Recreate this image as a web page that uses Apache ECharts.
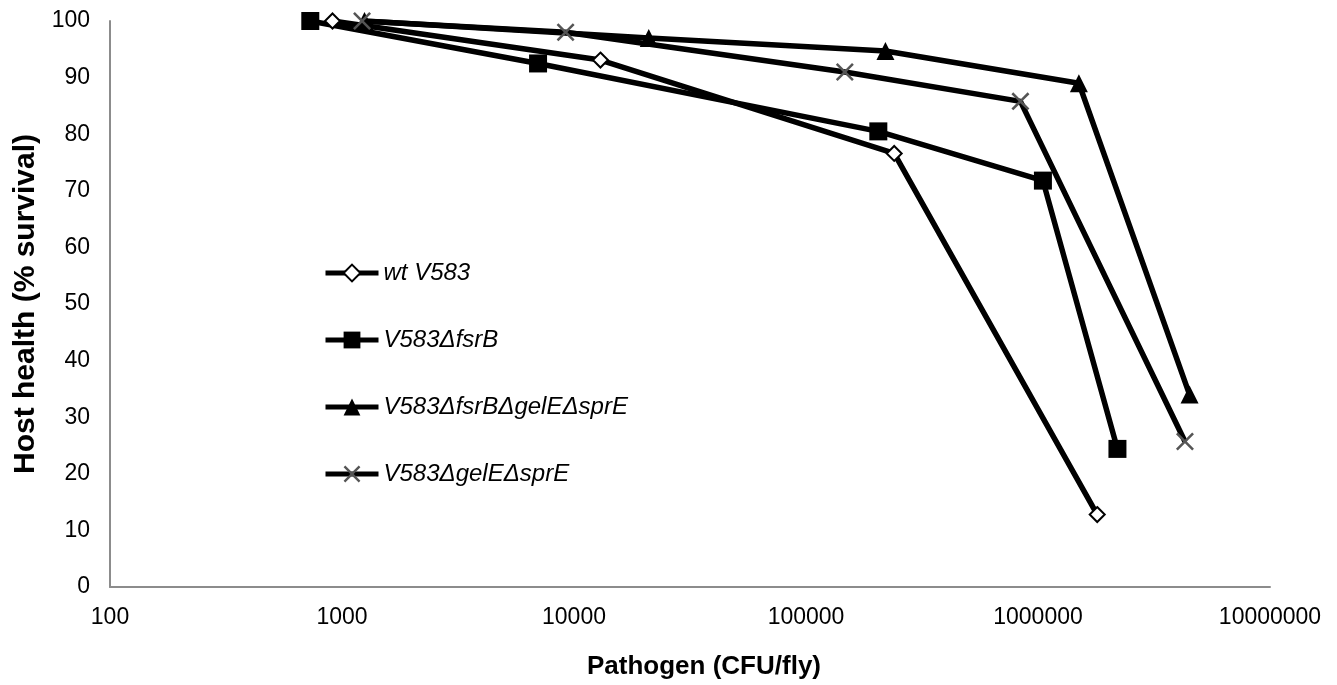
<!DOCTYPE html>
<html>
<head>
<meta charset="utf-8">
<script src="https://cdn.jsdelivr.net/npm/echarts@6/dist/echarts.min.js"></script>
<style>
  html, body { margin: 0; padding: 0; background: #fff; }
  #chart { width: 1337px; height: 685px; }
</style>
</head>
<body>
<div id="chart"></div>
<script>
    var seriesNames = ['wt V583', 'V583ΔfsrB', 'V583ΔfsrBΔgelEΔsprE', 'V583ΔgelEΔsprE'];

    // dose (CFU/fly) and survival (%)
    var wtDose = [910, 13000, 240000, 1800000];
    var wtSurv = [100, 93.1, 76.6, 12.8];

    var fsrDose = [730, 7000, 205000, 1050000, 2200000];
    var fsrSurv = [100, 92.5, 80.5, 71.8, 24.4];

    var tripleDose = [1250, 21000, 220000, 1500000, 4500000];
    var tripleSurv = [100, 97.0, 94.7, 89.0, 34.0];

    var gelDose = [1220, 9200, 147000, 840000, 4300000];
    var gelSurv = [100, 98.0, 91.0, 85.8, 25.7];

    function pairs(xs, ys) {
        var out = [];
        for (var i = 0; i < xs.length; i++) {
            out.push([xs[i], ys[i]]);
        }
        return out;
    }

    // X marker drawn as a filled outline
    var crossPath = 'path://M0,1 L1,0 L5,4 L9,0 L10,1 L6,5 L10,9 L9,10 L5,6 L1,10 L0,9 L4,5 Z';

    var myChart = echarts.init(document.getElementById('chart'));

    var option = {
        animation: false,
        backgroundColor: '#fff',
        textStyle: { fontFamily: 'Liberation Sans, Arial, sans-serif' },
        grid: {
            left: 110,
            right: 67,
            top: 21,
            bottom: 97
        },
        legend: {
            orient: 'vertical',
            left: 318,
            top: 256,
            itemWidth: 53,
            itemHeight: 21,
            itemGap: 43,
            lineStyle: { width: 5, color: '#000' },
            textStyle: {
                fontSize: 24,
                fontStyle: 'italic',
                color: '#000'
            },
            data: seriesNames
        },
        xAxis: {
            type: 'log',
            logBase: 10,
            min: 100,
            max: 10000000,
            name: 'Pathogen (CFU/fly)',
            nameLocation: 'middle',
            nameGap: 67,
            nameTextStyle: {
                fontSize: 26,
                fontWeight: 'bold',
                color: '#000',
                padding: [0, 0, 0, 28]
            },
            axisLine: { lineStyle: { color: '#8c8c8c', width: 2 } },
            axisTick: { show: false },
            splitLine: { show: false },
            axisLabel: {
                fontSize: 23,
                color: '#000',
                margin: 19,
                formatter: function (v) { return String(Math.round(v)); }
            }
        },
        yAxis: {
            type: 'value',
            min: 0,
            max: 100,
            interval: 10,
            name: 'Host health (% survival)',
            nameLocation: 'middle',
            nameGap: 60,
            nameTextStyle: { fontSize: 30, fontWeight: 'bold', color: '#000' },
            axisLine: { show: true, lineStyle: { color: '#8c8c8c', width: 2 } },
            axisTick: { show: false },
            splitLine: { show: false },
            axisLabel: { fontSize: 23, color: '#000', margin: 20 }
        },
        series: [
            {
                name: seriesNames[0],
                type: 'line',
                data: pairs(wtDose, wtSurv),
                symbol: 'diamond',
                symbolSize: 15,
                lineStyle: { color: '#000', width: 5.5 },
                itemStyle: { color: '#fff', borderColor: '#000', borderWidth: 2 },
                z: 2
            },
            {
                name: seriesNames[1],
                type: 'line',
                data: pairs(fsrDose, fsrSurv),
                symbol: 'rect',
                symbolSize: 18,
                lineStyle: { color: '#000', width: 5.5 },
                itemStyle: { color: '#000', borderColor: '#000', borderWidth: 0 },
                z: 2
            },
            {
                name: seriesNames[2],
                type: 'line',
                data: pairs(tripleDose, tripleSurv),
                symbol: 'triangle',
                symbolSize: 18,
                lineStyle: { color: '#000', width: 5.5 },
                itemStyle: { color: '#000', borderColor: '#000', borderWidth: 0 },
                z: 2
            },
            {
                name: seriesNames[3],
                type: 'line',
                data: pairs(gelDose, gelSurv),
                symbol: crossPath,
                symbolSize: 18,
                lineStyle: { color: '#000', width: 5.5 },
                itemStyle: { color: '#555', borderWidth: 0 },
                z: 3
            }
        ]
    };

    myChart.setOption(option);
    window.onresize = myChart.resize;
</script>
</body>
</html>
